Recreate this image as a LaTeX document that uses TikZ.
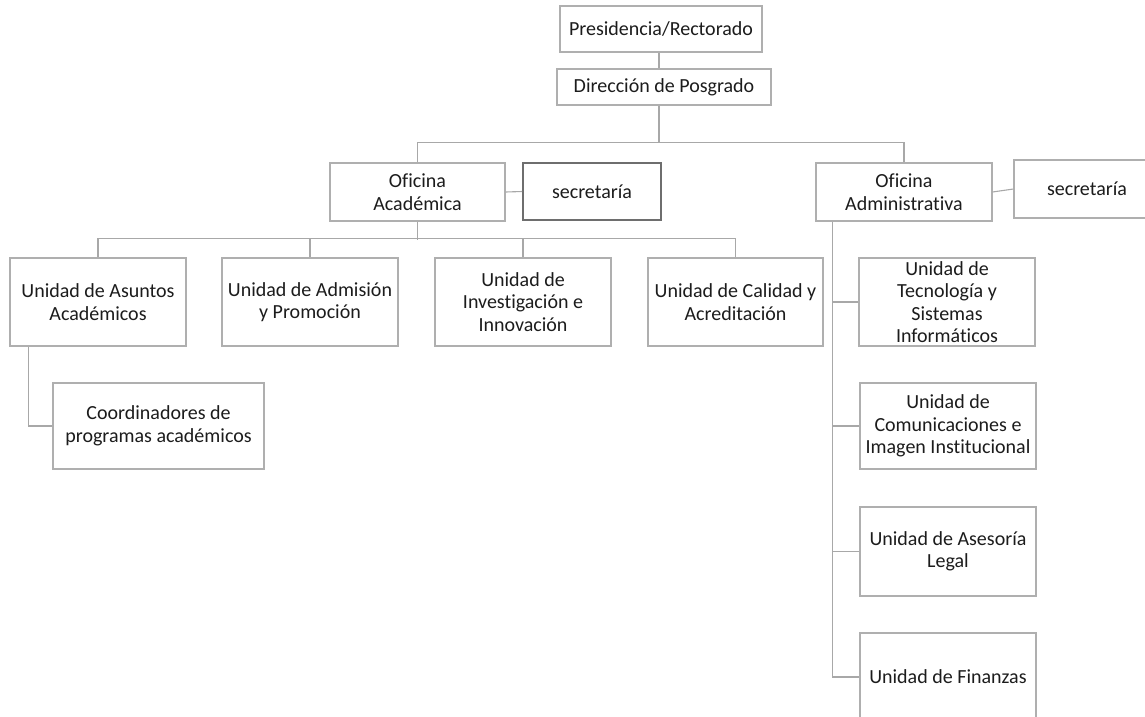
\documentclass[tikz,border=0pt]{standalone}
\usepackage{fontspec}
\setmainfont{Carlito}[Ligatures=CommonOff]
\definecolor{boxline}{HTML}{AFAFAF}
\definecolor{conline}{HTML}{A8A8A8}
\definecolor{darkbox}{HTML}{6E6E6E}
\definecolor{txt}{HTML}{1C1C1C}
\begin{document}
\begin{tikzpicture}[x=1pt,y=-1pt,
  box/.style={draw=boxline,line width=1.1pt,rectangle,align=center,text=txt,
    font=\fontsize{20}{22.5}\selectfont,inner sep=0pt},
  con/.style={draw=conline,line width=1.1pt}]
\fill[white] (0,0) rectangle (1145,716);
\useasboundingbox (0,0) rectangle (1145,716);
% top
\node[box,minimum width=202pt,minimum height=46pt] (pres) at (661,29) {Presidencia/Rectorado};
\node[box,minimum width=214pt,minimum height=36pt] (dir) at (664,87) {Dirección de Posgrado};
% offices
\node[box,minimum width=175pt,minimum height=58pt] (ofac) at (417.5,192) {Oficina\\Académica};
\node[box,draw=darkbox,line width=1.6pt,minimum width=138pt,minimum height=57pt] (sec1) at (592,191.5) {secretaría};
\node[box,minimum width=176pt,minimum height=58pt] (ofad) at (904,192) {Oficina\\Administrativa};
\node[box,minimum width=146pt,minimum height=58pt] (sec2) at (1087,189) {secretaría};
% academic units
\node[box,minimum width=176pt,minimum height=88pt] (asu) at (98,302) {Unidad de Asuntos\\Académicos};
\node[box,minimum width=176pt,minimum height=88pt] (adm) at (310,302) {Unidad de Admisión\\y Promoción};
\node[box,minimum width=176pt,minimum height=88pt] (inv) at (523,302) {Unidad de\\Investigación e\\Innovación};
\node[box,minimum width=175pt,minimum height=88pt] (cal) at (735.5,302) {Unidad de Calidad y\\Acreditación};
\node[box,minimum width=211pt,minimum height=86pt] (coord) at (158.5,426) {Coordinadores de\\programas académicos};
% administrative units
\node[box,minimum width=176pt,minimum height=88pt] (tec) at (947,302) {Unidad de\\Tecnología y\\Sistemas\\Informáticos};
\node[box,minimum width=176pt,minimum height=86pt] (com) at (948,426) {Unidad de\\Comunicaciones e\\Imagen Institucional};
\node[box,minimum width=176pt,minimum height=89pt] (leg) at (948,551.5) {Unidad de Asesoría\\Legal};
\node[box,minimum width=176pt,minimum height=88pt] (fin) at (948,677) {Unidad de Finanzas};
% connectors
\coordinate (hub) at (659,143);
\draw[con] (pres.south -| hub) -- (dir.north -| hub);
\draw[con] (dir.south -| hub) -- (hub);
\draw[con] (ofac.north) -- ++(0,-20) -| (ofad.north);
\draw[con] (ofac.east) -- (sec1.west);
\draw[con] (ofad.east) -- (sec2.west);
\draw[con] (ofac.south) -- ++(0,18) coordinate (bus);
\draw[con] (asu.north) -- ++(0,-19) -| (cal.north);
\draw[con] (adm.north) -- ++(0,-19);
\draw[con] (inv.north) -- ++(0,-19);
\draw[con] ([xshift=19pt]asu.south west) |- (coord.west);
\coordinate (spine) at ([xshift=17pt]ofad.south west);
\draw[con] (spine) |- (fin.west);
\draw[con] (tec.west) -- (tec.west -| spine);
\draw[con] (com.west) -- (com.west -| spine);
\draw[con] (leg.west) -- (leg.west -| spine);
\end{tikzpicture}
\end{document}
